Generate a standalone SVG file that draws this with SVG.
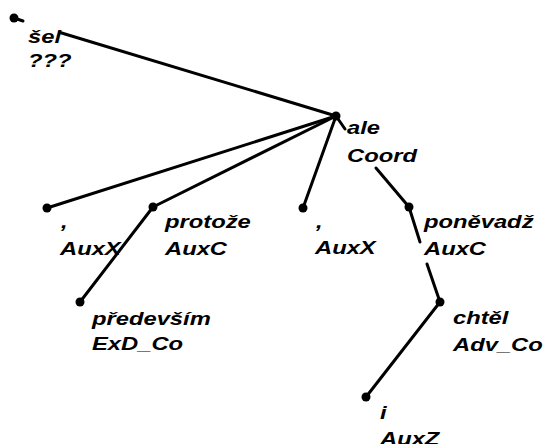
<svg xmlns="http://www.w3.org/2000/svg" width="543" height="444" viewBox="0 0 543 444">
<style>
.e{stroke:#000;stroke-width:3;stroke-linecap:round;fill:none}
.d{fill:#000}
.t{font-family:"Liberation Sans",Arial,sans-serif;font-weight:bold;font-style:italic;font-size:19px;fill:#000}
</style>
<rect width="543" height="444" fill="#fff"/>
<g id="edges">
<line class="e" x1="14" y1="18" x2="23" y2="21"/>
<line class="e" x1="60" y1="32.5" x2="336" y2="116"/>
<line class="e" x1="336" y1="116" x2="345" y2="129"/>
<line class="e" x1="376" y1="168" x2="409" y2="207"/>
<line class="e" x1="336" y1="116" x2="47" y2="208"/>
<line class="e" x1="336" y1="116" x2="153" y2="207"/>
<line class="e" x1="336" y1="116" x2="303" y2="208"/>
<line class="e" x1="153" y1="207" x2="80" y2="302"/>
<line class="e" x1="409" y1="207" x2="420" y2="242"/>
<line class="e" x1="427" y1="264" x2="440" y2="302"/>
<line class="e" x1="440" y1="302" x2="366" y2="397"/>
</g>
<g id="n-sel"><circle class="d" cx="14" cy="18" r="4.5"/>
<text class="t" transform="translate(28,43) scale(1.25,1)">šel</text>
<text class="t" transform="translate(28,67) scale(1.25,1)">???</text></g>
<g id="n-ale"><circle class="d" cx="336" cy="116" r="4.5"/>
<text class="t" transform="translate(347,134) scale(1.25,1)">ale</text>
<text class="t" transform="translate(347,162) scale(1.25,1)">Coord</text></g>
<g id="n-comma1"><circle class="d" cx="47" cy="208" r="4.5"/>
<text class="t" transform="translate(61,228) scale(1.25,1)">,</text>
<text class="t" transform="translate(60,255) scale(1.25,1)">AuxX</text></g>
<g id="n-protoze"><circle class="d" cx="153" cy="207" r="4.5"/>
<text class="t" transform="translate(165,228) scale(1.25,1)">protože</text>
<text class="t" transform="translate(165,255) scale(1.25,1)">AuxC</text></g>
<g id="n-predevsim"><circle class="d" cx="80" cy="302" r="4.5"/>
<text class="t" transform="translate(92,325) scale(1.25,1)">především</text>
<text class="t" transform="translate(92,350) scale(1.25,1)">ExD_Co</text></g>
<g id="n-comma2"><circle class="d" cx="303" cy="208" r="4.5"/>
<text class="t" transform="translate(316,228) scale(1.25,1)">,</text>
<text class="t" transform="translate(315,254) scale(1.25,1)">AuxX</text></g>
<g id="n-ponevadz"><circle class="d" cx="409" cy="207" r="4.5"/>
<text class="t" transform="translate(424,228) scale(1.25,1)">poněvadž</text>
<text class="t" transform="translate(424,255) scale(1.25,1)">AuxC</text></g>
<g id="n-chtel"><circle class="d" cx="440" cy="302" r="4.5"/>
<text class="t" transform="translate(453,324) scale(1.25,1)">chtěl</text>
<text class="t" transform="translate(453,351) scale(1.25,1)">Adv_Co</text></g>
<g id="n-i"><circle class="d" cx="366" cy="397" r="4.5"/>
<text class="t" transform="translate(380,419) scale(1.25,1)">i</text>
<text class="t" transform="translate(380,445) scale(1.25,1)">AuxZ</text></g>
</svg>
